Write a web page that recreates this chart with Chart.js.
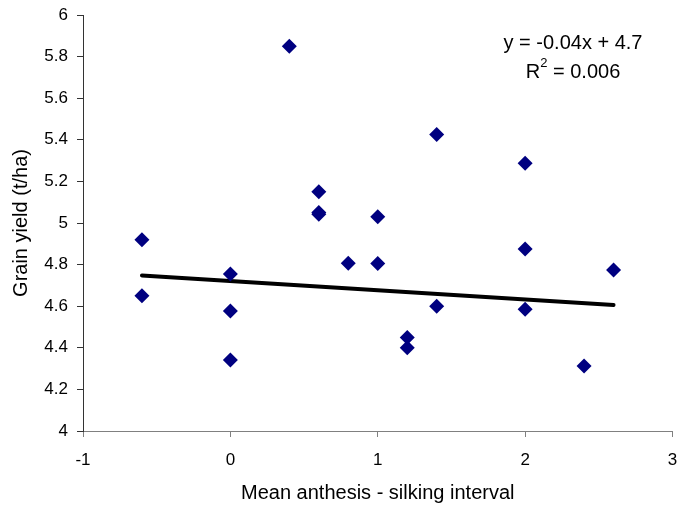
<!DOCTYPE html>
<html>
<head>
<meta charset="utf-8">
<script src="https://cdn.jsdelivr.net/npm/chart.js@4/dist/chart.umd.min.js"></script>
<style>
  html, body { margin: 0; padding: 0; background: #fff; }
</style>
</head>
<body>
<canvas id="myChart" width="680" height="510"></canvas>
<script>
// mean anthesis - silking interval (x) vs grain yield (y)
const asiValues = [-0.6, -0.6, 0, 0, 0, 0.4, 0.6, 0.6, 0.6, 0.8, 1, 1, 1.2, 1.2, 1.4, 1.4, 2, 2, 2, 2.4, 2.6];
const yieldValues = [4.92, 4.65, 4.755, 4.577, 4.341, 5.85, 5.15, 5.05, 5.042, 4.806, 5.03, 4.805, 4.449, 4.40, 5.426, 4.60, 5.287, 4.875, 4.585, 4.312, 4.774];

// ends of the linear trendline as drawn
const trendX = [-0.6, 2.6];
const trendY = [4.748, 4.606];

const eqLine1 = "y = -0.04x + 4.7";
const eqLine2 = "R";
const eqLine2b = " = 0.006";

const fontName = "'Liberation Sans', Arial, sans-serif";

let points = [];
for (let i = 0; i < asiValues.length; i++) {
  points.push({ x: asiValues[i], y: yieldValues[i] });
}
let trendPoints = [];
for (let i = 0; i < trendX.length; i++) {
  trendPoints.push({ x: trendX[i], y: trendY[i] });
}

// writes the trendline equation and R squared in the top right
const equationPlugin = {
  id: "equation",
  afterDraw(chart) {
    const ctx = chart.ctx;
    ctx.save();
    ctx.fillStyle = "#000";
    ctx.textBaseline = "middle";
    ctx.font = "20px " + fontName;
    ctx.textAlign = "center";
    ctx.fillText(eqLine1, 573, 43);
    // R^2 line
    const w1 = ctx.measureText(eqLine2).width;
    const w2 = ctx.measureText(eqLine2b).width;
    ctx.font = "13px " + fontName;
    const ws = ctx.measureText("2").width;
    const total = w1 + ws + w2;
    let x = 573 - total / 2;
    ctx.textAlign = "left";
    ctx.font = "20px " + fontName;
    ctx.fillText(eqLine2, x, 72);
    x += w1;
    ctx.font = "13px " + fontName;
    ctx.fillText("2", x, 63);
    x += ws;
    ctx.font = "20px " + fontName;
    ctx.fillText(eqLine2b, x, 72);
    ctx.restore();
  },
};

const data = {
  datasets: [
    {
      label: "yield",
      data: points,
      pointStyle: "rectRot",
      pointRadius: 7.5,
      pointHoverRadius: 7.5,
      backgroundColor: "#000080",
      borderColor: "#000080",
      borderWidth: 0,
      showLine: false,
      order: 1,
    },
    {
      label: "trend",
      data: trendPoints,
      showLine: true,
      pointRadius: 0,
      borderColor: "#000",
      borderWidth: 4,
      borderCapStyle: "round",
      order: 2,
    },
  ],
};

const config = {
  type: "scatter",
  data: data,
  plugins: [equationPlugin],
  options: {
    responsive: false,
    animation: false,
    layout: {
      padding: { left: 0, right: 7, top: 15, bottom: 0 },
    },
    plugins: {
      legend: { display: false },
      tooltip: { enabled: false },
    },
    scales: {
      x: {
        type: "linear",
        min: -1,
        max: 3,
        afterFit(scale) {
          scale.height = 79;
          scale.paddingLeft = 0;
          scale.paddingRight = 0;
        },
        ticks: {
          stepSize: 1,
          color: "#000",
          padding: 13,
          font: { family: fontName, size: 17 },
        },
        grid: {
          drawOnChartArea: false,
          drawTicks: true,
          tickLength: 6,
          color: "#808080",
        },
        border: { display: true, color: "#808080", width: 1 },
        title: {
          display: true,
          text: "Mean anthesis - silking interval",
          color: "#000",
          font: { family: fontName, size: 20 },
          padding: { top: 0, bottom: 5 },
        },
      },
      y: {
        type: "linear",
        min: 4,
        max: 6,
        afterFit(scale) {
          scale.width = 83;
          scale.paddingTop = 0;
          scale.paddingBottom = 0;
        },
        ticks: {
          stepSize: 0.2,
          color: "#000",
          padding: 9,
          font: { family: fontName, size: 17 },
          callback: (v) => String(+v.toFixed(1)),
        },
        grid: {
          drawOnChartArea: false,
          drawTicks: true,
          tickLength: 6,
          color: "#333",
        },
        border: { display: true, color: "#333", width: 1 },
        title: {
          display: true,
          text: "Grain yield (t/ha)",
          color: "#000",
          font: { family: fontName, size: 20 },
          padding: { top: 9, bottom: 0 },
        },
      },
    },
  },
};

const myChart = new Chart(document.getElementById("myChart"), config);
</script>
</body>
</html>
